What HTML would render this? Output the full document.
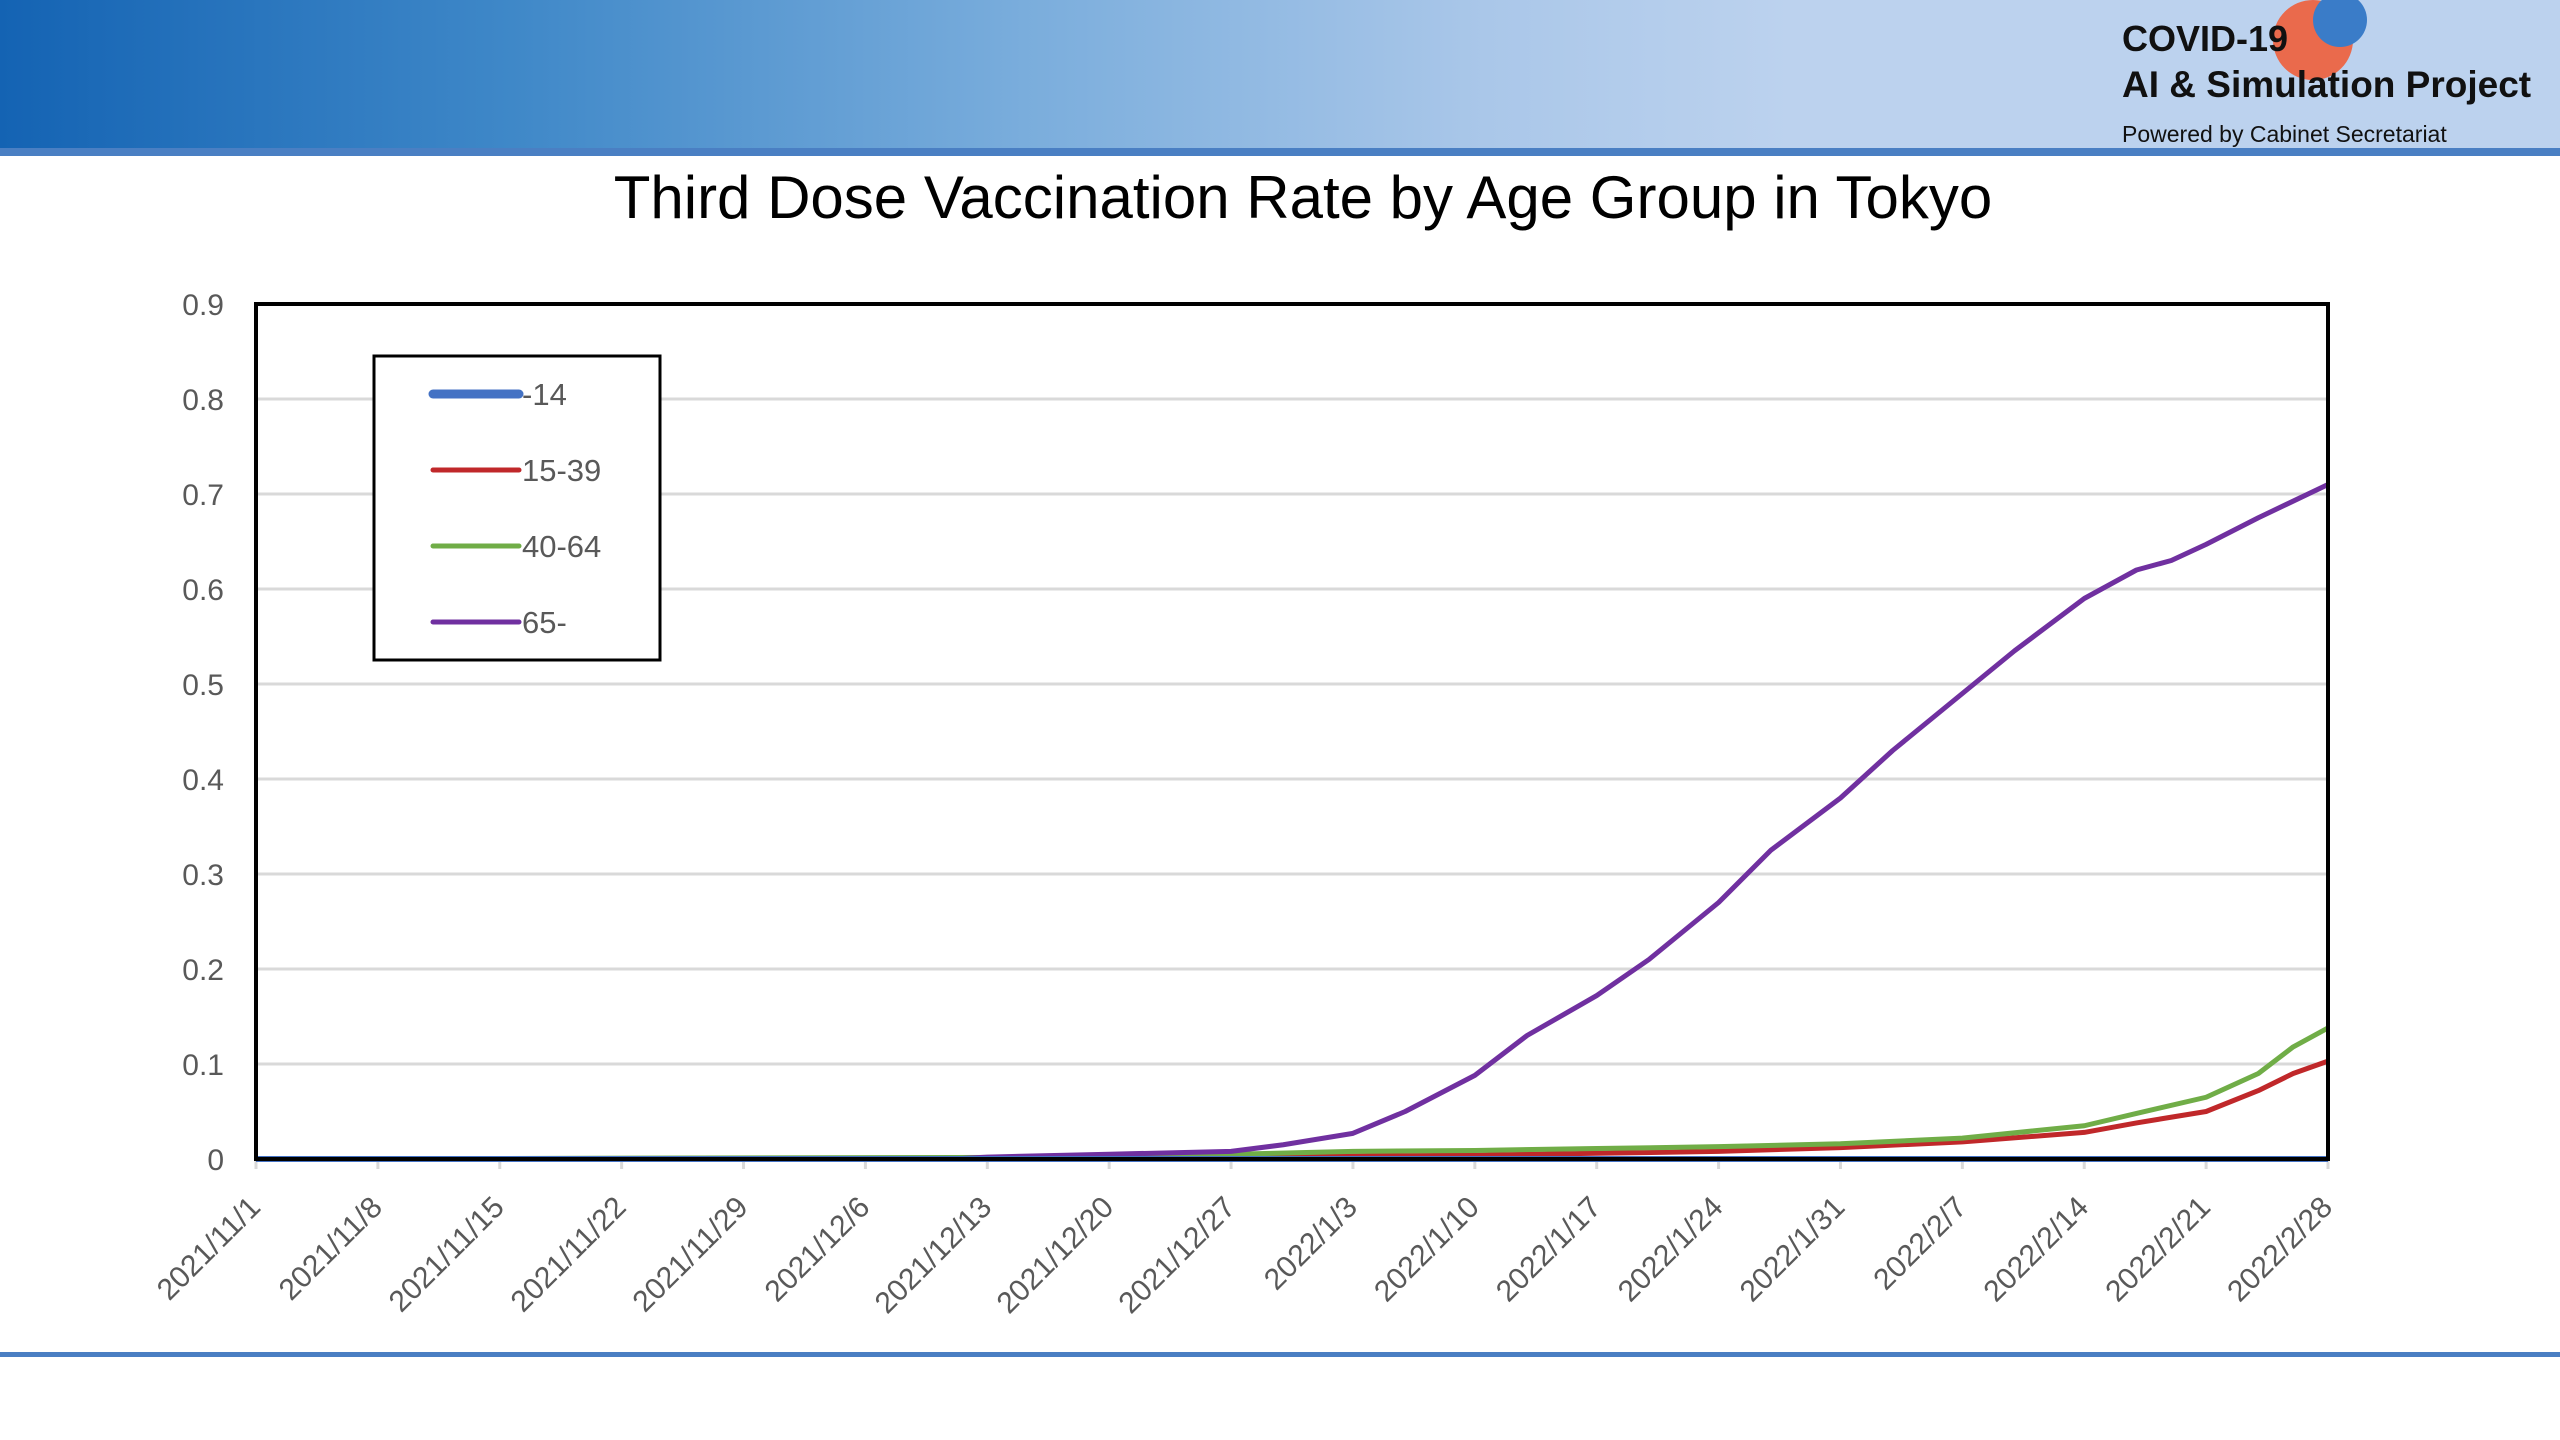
<!DOCTYPE html>
<html><head><meta charset="utf-8"><style>
html,body{margin:0;padding:0;background:#fff;}
body{width:2560px;height:1440px;position:relative;overflow:hidden;font-family:"Liberation Sans",sans-serif;}
#hdr{position:absolute;left:0;top:0;width:2560px;height:148px;background:linear-gradient(90deg,#1463b3 0%,#3f88c8 20%,#7aaddc 40%,#aac7e9 58%,#bcd2ee 70%,#bcd2ee 100%);}
#hline{position:absolute;left:0;top:148px;width:2560px;height:8px;background:#4a7fc3;}
#bline{position:absolute;left:0;top:1352px;width:2560px;height:5px;background:#4a7fc3;}
.logo{position:absolute;left:2122px;color:#111;font-weight:bold;white-space:nowrap;}
</style></head><body>
<div id="hdr"></div>
<div id="hline"></div>
<svg style="position:absolute;left:0;top:0" width="2560" height="150">
<circle cx="2313" cy="40" r="40" fill="#ea6a4c"/>
<circle cx="2340" cy="20" r="27" fill="#3a7cc8"/>
</svg>
<div class="logo" style="top:18px;font-size:36px;">COVID-19</div>
<div class="logo" style="top:64px;font-size:37px;">AI &amp; Simulation Project</div>
<div class="logo" style="top:121px;font-size:23px;font-weight:normal;">Powered by Cabinet Secretariat</div>
<div id="bline"></div>
<svg id="chart" style="position:absolute;left:0;top:0" width="2560" height="1440"></svg>
<script>
const xLabels=["2021/11/1","2021/11/8","2021/11/15","2021/11/22","2021/11/29","2021/12/6","2021/12/13","2021/12/20","2021/12/27","2022/1/3","2022/1/10","2022/1/17","2022/1/24","2022/1/31","2022/2/7","2022/2/14","2022/2/21","2022/2/28"];
const yTicks=[0,0.1,0.2,0.3,0.4,0.5,0.6,0.7,0.8,0.9];
const s14Days=[0,119];
const s14Vals=[0,0];
const s1539Days=[0,50,56,63,70,77,84,91,98,105,108,112,115,117,119];
const s1539Vals=[0,0.001,0.002,0.003,0.004,0.006,0.008,0.012,0.018,0.028,0.038,0.05,0.072,0.09,0.103];
const s4064Days=[0,50,56,63,70,77,84,91,98,105,108,112,115,117,119];
const s4064Vals=[0,0.002,0.005,0.008,0.009,0.011,0.013,0.016,0.022,0.035,0.048,0.065,0.09,0.118,0.138];
const s65Days=[0,40,42,49,56,59,63,66,70,73,77,80,84,87,91,94,98,101,105,108,110,112,115,119];
const s65Vals=[0,0,0.002,0.005,0.008,0.015,0.027,0.05,0.088,0.13,0.172,0.21,0.27,0.325,0.38,0.43,0.49,0.535,0.59,0.62,0.63,0.647,0.675,0.71];
const seriesNames=["-14","15-39","40-64","65-"];

const L=256,R=2328,T=304,B=1159,maxDay=119,maxY=0.9;
const X=d=>L+d/maxDay*(R-L);
const Y=v=>B-v/maxY*(B-T);
const svg=document.getElementById('chart');
const NS='http://www.w3.org/2000/svg';
function mk(tag,attrs){const e=document.createElementNS(NS,tag);for(const k in attrs)e.setAttribute(k,attrs[k]);svg.appendChild(e);return e;}

const title=mk('text',{x:1303,y:218,'font-size':60,'text-anchor':'middle',fill:'#000','font-family':'Liberation Sans, sans-serif'});
title.textContent='Third Dose Vaccination Rate by Age Group in Tokyo';



yTicks.forEach(v=>{
  const g=mk('line',{x1:L,x2:R,y1:Y(v),y2:Y(v),stroke:'#d9d9d9','stroke-width':3});
  
  
  const t=mk('text',{x:224,y:Y(v)+11,'font-size':30,'text-anchor':'end',fill:'#595959'});
  t.textContent=String(v);
  
  
});
xLabels.forEach((lab,i)=>{
  const x=X(i*7);
  const tk=mk('line',{x1:x,x2:x,y1:B,y2:B+10,stroke:'#d9d9d9','stroke-width':3});
  
  
  const t=mk('text',{x:x+6,y:B+50,'font-size':30,'text-anchor':'end',fill:'#595959',transform:`rotate(-45 ${x+6} ${B+50})`});
  t.textContent=lab;
  
  
});

function line(days,vals,color,w,name){
  const p=mk('polyline',{points:days.map((d,i)=>X(d)+','+Y(vals[i])).join(' '),fill:'none',stroke:color,'stroke-width':w,'stroke-linejoin':'round'});
  
  
}
line(s1539Days,s1539Vals,'#c0282a',5,'line-15-39');
line(s4064Days,s4064Vals,'#70ad47',5,'line-40-64');
line(s65Days,s65Vals,'#7030a0',5,'line-65-plus');
line(s14Days,s14Vals,'#4472c4',6,'line-under-14');

const fr=mk('rect',{x:L,y:T,width:R-L,height:B-T,fill:'none',stroke:'#000','stroke-width':4});



const lg=mk('rect',{x:374,y:356,width:286,height:304,fill:'#fff',stroke:'#000','stroke-width':3});


const lgColors=['#4472c4','#c0282a','#70ad47','#7030a0'];
const lgW=[9,5,5,5];
seriesNames.forEach((n,i)=>{
  const y=394+i*76;
  const l=mk('line',{x1:433,x2:519,y1:y,y2:y,stroke:lgColors[i],'stroke-width':lgW[i],'stroke-linecap':'round'});
  
  
  const t=mk('text',{x:522,y:y+11,'font-size':31,fill:'#595959'});
  t.textContent=n;
  
  
});
</script>
</body></html>
